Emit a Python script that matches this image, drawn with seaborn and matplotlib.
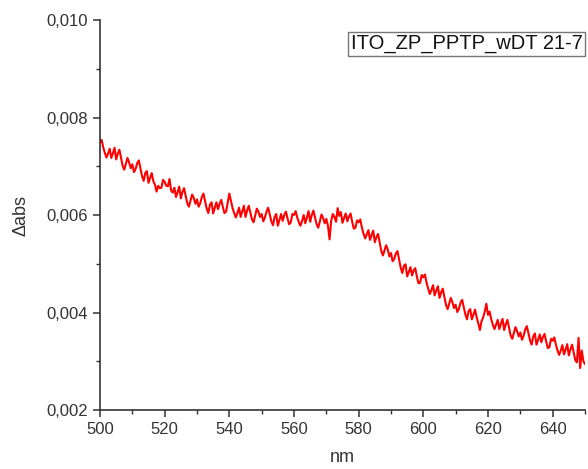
import numpy as np
import pandas as pd
import matplotlib
matplotlib.use("Agg")
import matplotlib.pyplot as plt
from matplotlib.ticker import MultipleLocator, FuncFormatter
import seaborn as sns

# wavelength grid (nm), 0.5 nm steps from 500 to 650
wavelength = [500 + 0.5 * i for i in range(301)]

# Δabs values in units of 1e-3 (one row = 5 nm)
dabs_milli = [
    7.48, 7.54, 7.39, 7.27, 7.18, 7.26, 7.36, 7.17, 7.27, 7.38,
    7.14, 7.26, 7.34, 7.17, 7.01, 6.93, 7.05, 7.17, 7.08, 6.96,
    7.04, 6.88, 6.94, 7.06, 7.12, 6.96, 6.80, 6.70, 6.86, 6.90,
    6.66, 6.76, 6.86, 6.69, 6.62, 6.48, 6.60, 6.55, 6.56, 6.72,
    6.68, 6.60, 6.59, 6.74, 6.50, 6.46, 6.56, 6.37, 6.47, 6.58,
    6.34, 6.47, 6.55, 6.40, 6.24, 6.17, 6.30, 6.42, 6.35, 6.23,
    6.32, 6.17, 6.24, 6.37, 6.44, 6.29, 6.13, 6.04, 6.21, 6.26,
    6.03, 6.15, 6.26, 6.12, 6.23, 6.31, 6.16, 6.04, 6.07, 6.25,
    6.44, 6.29, 6.14, 6.04, 5.95, 6.04, 6.15, 5.96, 6.08, 6.19,
    5.96, 6.09, 6.19, 6.05, 5.91, 5.85, 5.99, 6.13, 6.07, 5.96,
    6.02, 5.87, 5.95, 6.07, 6.15, 6.01, 5.87, 5.79, 5.96, 6.02,
    5.78, 5.90, 6.02, 5.88, 6.00, 6.07, 5.93, 5.81, 5.85, 6.02,
    6.00, 6.08, 5.95, 5.85, 5.78, 5.88, 6.00, 5.83, 5.95, 6.08,
    5.86, 6.00, 6.09, 5.95, 5.81, 5.74, 5.87, 6.01, 5.94, 5.83,
    5.92, 5.78, 5.50, 5.88, 6.02, 5.96, 5.86, 6.14, 5.98, 6.06,
    5.84, 5.94, 6.03, 5.87, 5.97, 6.03, 5.86, 5.72, 5.74, 5.89,
    5.85, 5.91, 5.74, 5.62, 5.52, 5.60, 5.69, 5.49, 5.59, 5.68,
    5.44, 5.55, 5.61, 5.44, 5.26, 5.17, 5.28, 5.38, 5.29, 5.15,
    5.22, 5.05, 5.10, 5.21, 5.26, 5.09, 4.92, 4.81, 4.96, 4.99,
    4.74, 4.83, 4.93, 4.76, 4.86, 4.91, 4.74, 4.60, 4.61, 4.77,
    4.72, 4.78, 4.61, 4.49, 4.38, 4.46, 4.56, 4.35, 4.45, 4.54,
    4.30, 4.41, 4.49, 4.32, 4.16, 4.07, 4.18, 4.30, 4.21, 4.09,
    4.16, 4.01, 4.07, 4.20, 4.26, 4.11, 3.96, 3.86, 4.03, 4.07,
    3.86, 3.96, 4.06, 3.90, 3.78, 3.64, 3.82, 3.90, 4.02, 4.18,
    3.95, 4.02, 3.86, 3.75, 3.66, 3.75, 3.85, 3.66, 3.77, 3.87,
    3.64, 3.76, 3.85, 3.69, 3.53, 3.46, 3.58, 3.70, 3.62, 3.51,
    3.59, 3.44, 3.52, 3.65, 3.72, 3.58, 3.43, 3.34, 3.51, 3.57,
    3.34, 3.44, 3.55, 3.39, 3.50, 3.56, 3.40, 3.27, 3.29, 3.46,
    3.42, 3.49, 3.34, 3.22, 3.13, 3.22, 3.33, 3.14, 3.24, 3.35,
    3.12, 3.24, 3.34, 3.18, 3.02, 2.98, 3.48, 2.86, 3.22, 3.00,
    2.94,
]

series_label = "ITO_ZP_PPTP_wDT 21-7"
x_label = "nm"
y_label = "\u0394abs"

df = pd.DataFrame({
    "nm": wavelength,
    "dabs": [v * 1e-3 for v in dabs_milli],
    "sample": series_label,
})

sns.set_style("ticks")
plt.rcParams["font.family"] = ["Liberation Sans", "DejaVu Sans"]

fig = plt.figure(figsize=(5.88, 4.69), dpi=100)
ax = fig.add_axes([100 / 588, 1 - 410 / 469, 485 / 588, 390 / 469])

sns.lineplot(data=df, x="nm", y="dabs", hue="sample", palette=["#ff0000"],
             linewidth=1.5, ax=ax, legend=True)

ax.set_xlim(500, 650)
ax.set_ylim(0.002, 0.010)
ax.xaxis.set_major_locator(MultipleLocator(20))
ax.xaxis.set_minor_locator(MultipleLocator(10))
ax.yaxis.set_major_locator(MultipleLocator(0.002))
ax.yaxis.set_minor_locator(MultipleLocator(0.001))
ax.yaxis.set_major_formatter(FuncFormatter(lambda v, p: f"{v:.3f}".replace(".", ",")))

for s in ["top", "right"]:
    ax.spines[s].set_visible(False)
for s in ["left", "bottom"]:
    ax.spines[s].set_color("#333333")
    ax.spines[s].set_linewidth(1.2)

ax.tick_params(which="major", length=5, width=1.1, color="#333333",
               labelsize=12, labelcolor="#333333", direction="out")
ax.tick_params(which="minor", length=3, width=1.0, color="#333333", direction="out")

ax.set_xlabel(x_label, fontsize=13, color="#333333", labelpad=9)
ax.set_ylabel(y_label, fontsize=13, color="#333333", labelpad=12)

leg = ax.legend(loc="upper right", bbox_to_anchor=(1.0, 0.97), handlelength=0,
                handletextpad=0, fontsize=14.5, frameon=True, fancybox=False,
                borderpad=0.12, borderaxespad=0.0)
leg.get_frame().set_edgecolor("#555555")
leg.get_frame().set_linewidth(1.0)
for h in leg.legend_handles:
    h.set_visible(False)
for t in leg.get_texts():
    t.set_color("#111111")

fig.savefig("out.png", dpi=100)
